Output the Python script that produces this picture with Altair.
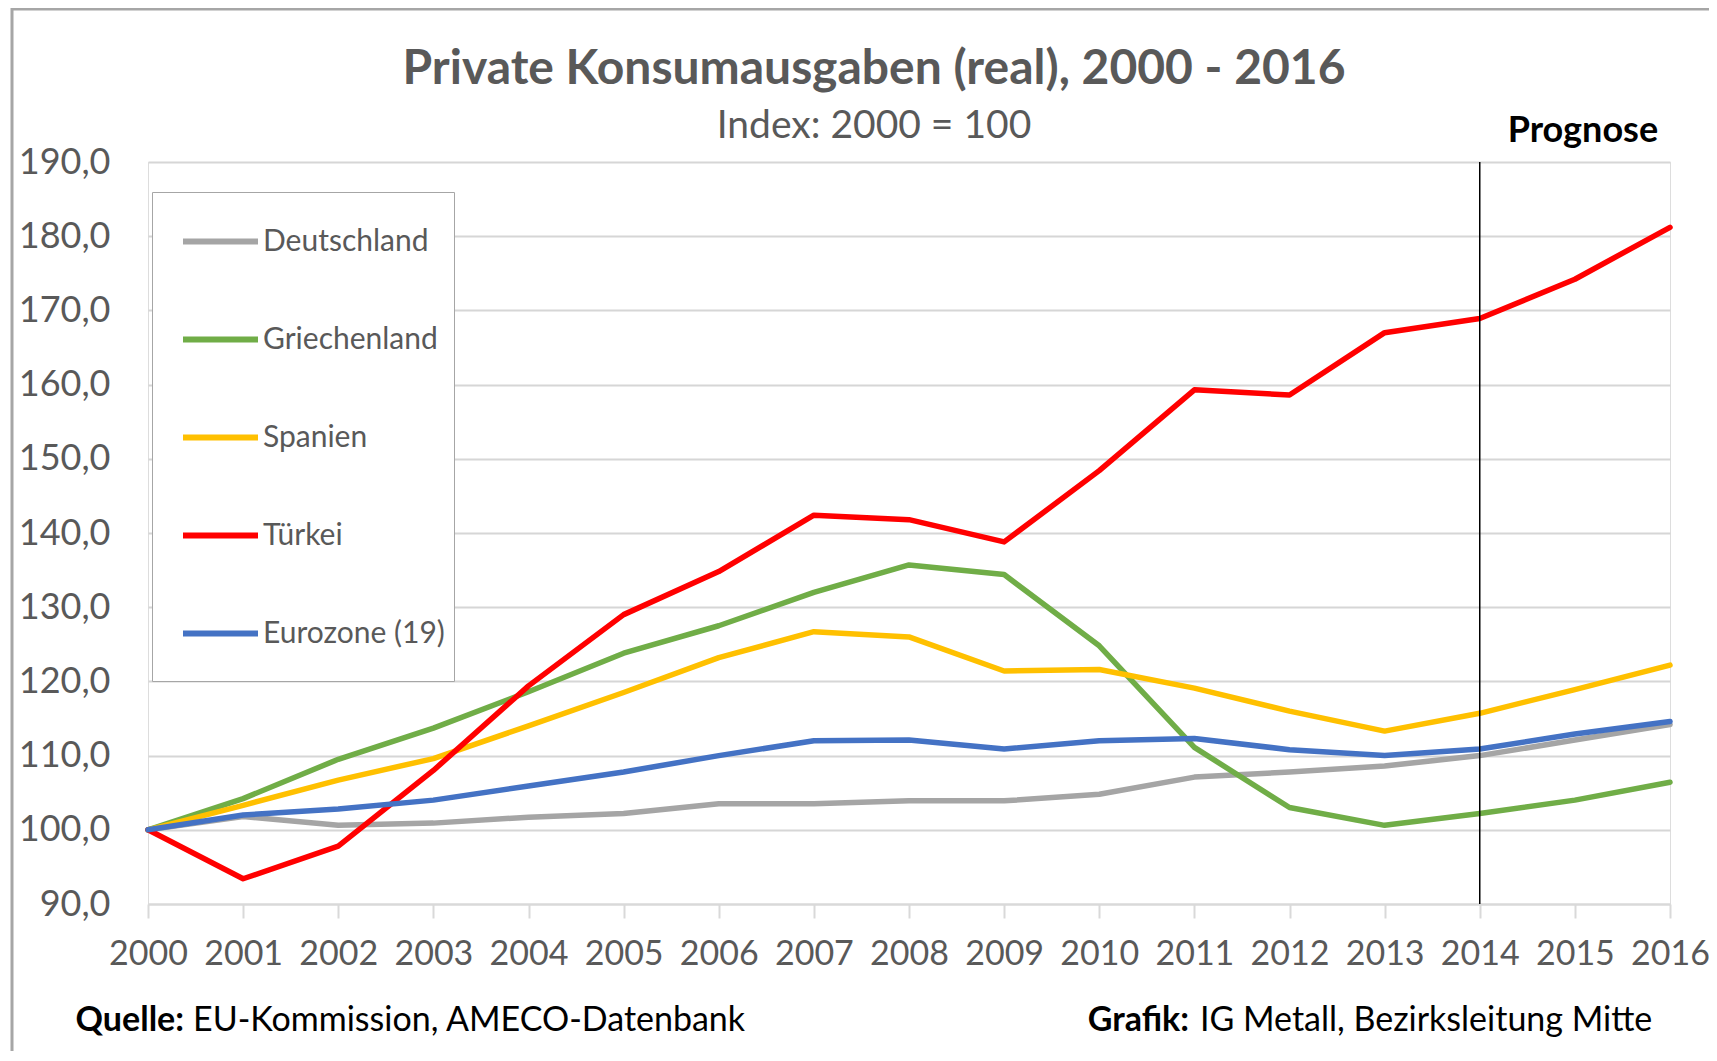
import altair as alt
import pandas as pd

years = list(range(2000, 2017))
series_names = ["Deutschland", "Griechenland", "Spanien", "Türkei", "Eurozone (19)"]
series_colors = ["#A5A5A5", "#70AD47", "#FFC000", "#FF0000", "#4472C4"]

deutschland = [100.0, 101.8, 100.6, 100.9, 101.7, 102.2, 103.5, 103.5, 103.9, 103.9, 104.8, 107.1, 107.8, 108.6, 110.0, 112.1, 114.2]
griechenland = [100.0, 104.2, 109.5, 113.7, 118.6, 123.8, 127.5, 132.0, 135.7, 134.4, 124.8, 111.1, 103.0, 100.6, 102.2, 104.0, 106.4]
spanien = [100.0, 103.3, 106.7, 109.6, 114.0, 118.5, 123.2, 126.7, 126.0, 121.4, 121.6, 119.1, 116.0, 113.3, 115.7, 118.9, 122.2]
tuerkei = [100.0, 93.4, 97.8, 108.0, 119.4, 129.0, 134.8, 142.4, 141.8, 138.8, 148.4, 159.3, 158.6, 167.0, 168.9, 174.2, 181.2]
eurozone = [100.0, 102.0, 102.8, 104.0, 105.9, 107.8, 110.0, 112.0, 112.1, 110.9, 112.0, 112.3, 110.8, 110.0, 110.9, 112.9, 114.6]

y_ticks = [90, 100, 110, 120, 130, 140, 150, 160, 170, 180, 190]
prognose_year = [2014]
prognose_label_year = [2015]
prognose_text = ["Prognose"]

title_text = ["Private Konsumausgaben (real), 2000 - 2016"]
subtitle_text = ["Index: 2000 = 100"]
source_bold = ["Quelle:"]
source_rest = ["EU-Kommission, AMECO-Datenbank"]
credit_bold = ["Grafik:"]
credit_rest = ["IG Metall, Bezirksleitung Mitte"]

all_values = [deutschland, griechenland, spanien, tuerkei, eurozone]
rows = []
for name, vals in zip(series_names, all_values):
    for yr, v in zip(years, vals):
        rows.append({"Jahr": yr, "Wert": v, "Land": name})
df = pd.DataFrame(rows)

FONT = "Lato"
GREY_TXT = "#595959"
NBSP = "\u00a0"

base = alt.Chart(df)

lines = base.mark_line(strokeWidth=5.5, strokeJoin="round", strokeCap="round").encode(
    x=alt.X("Jahr:Q",
            scale=alt.Scale(domain=[2000, 2016], nice=False, zero=False),
            axis=alt.Axis(values=years, format="d", grid=False, title=None,
                          tickSize=14, tickColor="#D9D9D9", tickWidth=2,
                          domainColor="#D9D9D9", domainWidth=2,
                          labelFont=FONT, labelFontSize=34, labelColor=GREY_TXT,
                          labelPadding=19, labelFlush=False, labelOverlap=False)),
    y=alt.Y("Wert:Q",
            scale=alt.Scale(domain=[90, 190], nice=False, zero=False),
            axis=alt.Axis(values=y_ticks, title=None, ticks=False, domain=False,
                          grid=True, gridColor="#D6D6D6", gridWidth=2,
                          labelExpr="replace(format(datum.value, '.1f'), '.', ',')",
                          labelFont=FONT, labelFontSize=36, labelColor=GREY_TXT,
                          labelPadding=38)),
    color=alt.Color("Land:N",
                    scale=alt.Scale(domain=series_names, range=series_colors),
                    sort=series_names,
                    legend=alt.Legend(orient="none", legendX=4, legendY=30, title=" ",
                                      titleOrient="bottom", titleFontSize=18,
                                      titlePadding=5,
                                      symbolType="stroke", symbolSize=5625,
                                      symbolStrokeWidth=6, labelFont=FONT,
                                      labelFontSize=30, labelColor=GREY_TXT,
                                      labelExpr="datum.label + '" + NBSP * 3 + "'",
                                      labelOffset=2, labelLimit=400, rowPadding=42,
                                      padding=9, symbolOffset=19,
                                      fillColor="white", strokeColor="#A6A6A6")),
    order=alt.Order("Land:N", sort="ascending"),
)

rule_df = pd.DataFrame({"Jahr": prognose_year})
rule = alt.Chart(rule_df).mark_rule(color="black", strokeWidth=1.5).encode(
    x=alt.X("Jahr:Q"))

prog_df = pd.DataFrame({"Jahr": prognose_label_year, "text": prognose_text})
prog = alt.Chart(prog_df).mark_text(font=FONT, fontSize=36, fontWeight="bold",
                                    color="black", baseline="middle", dx=8).encode(
    x=alt.X("Jahr:Q"), y=alt.value(-31), text="text:N")

title_df = pd.DataFrame({"t": title_text, "s": subtitle_text})
t1 = alt.Chart(title_df).mark_text(font=FONT, fontSize=48, fontWeight="bold", color=GREY_TXT,
                                   align="center", baseline="middle").encode(
    x=alt.value(726), y=alt.value(-92), text="t:N")
t2 = alt.Chart(title_df).mark_text(font=FONT, fontSize=39, color=GREY_TXT,
                                   align="center", baseline="middle").encode(
    x=alt.value(726), y=alt.value(-36), text="s:N")

foot_df = pd.DataFrame({"a": source_bold, "b": source_rest, "c": credit_bold, "d": credit_rest})
f1 = alt.Chart(foot_df).mark_text(font=FONT, fontSize=34, fontWeight="bold", color="black",
                                  align="right", baseline="middle").encode(
    x=alt.value(36), y=alt.value(859), text="a:N")
f2 = alt.Chart(foot_df).mark_text(font=FONT, fontSize=34, color="black",
                                  align="left", baseline="middle").encode(
    x=alt.value(45), y=alt.value(859), text="b:N")
f3 = alt.Chart(foot_df).mark_text(font=FONT, fontSize=34, fontWeight="bold", color="black",
                                  align="right", baseline="middle").encode(
    x=alt.value(1041), y=alt.value(859), text="c:N")
f4 = alt.Chart(foot_df).mark_text(font=FONT, fontSize=34, color="black",
                                  align="left", baseline="middle").encode(
    x=alt.value(1052), y=alt.value(859), text="d:N")

frame_df = pd.DataFrame({"k": [1]})
frame = alt.Chart(frame_df).mark_rect(fillOpacity=0, stroke="#A6A6A6", strokeWidth=3).encode(
    x=alt.value(-136), x2=alt.value(1700), y=alt.value(-153), y2=alt.value(1000))

chart = alt.layer(frame, lines, rule, prog, t1, t2, f1, f2, f3, f4).properties(
    width=1522, height=742,
    autosize=alt.AutoSizeParams(type="none"),
    padding={"left": 140, "top": 154, "right": 39, "bottom": 147},
).configure_view(fill="#E5E5E5", strokeWidth=0).configure(background="white")

chart.save("out.html", embed_options={"renderer": "svg", "actions": False})
